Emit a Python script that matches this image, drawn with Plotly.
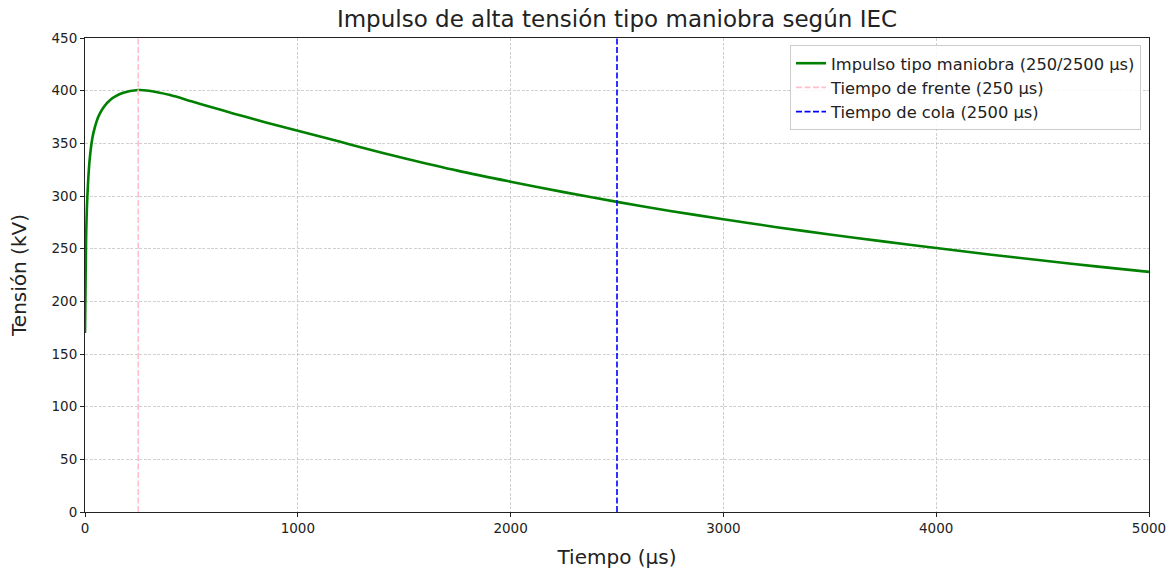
import plotly.graph_objects as go

# Tensión (µs, kV)
tiempo_us = [0, 5, 11, 23, 39, 70, 117, 180, 250, 300, 400, 500, 600, 700,
             800, 900, 1000, 1100, 1200, 1300, 1400, 1500, 1750, 2000, 2250,
             2500, 2750, 3000, 3250, 3500, 3750, 4000, 4250, 4500, 4750, 5000]
tension_kv = [170, 258, 299, 337, 359.5, 378.5, 391, 398, 400.6, 399.9,
              395.8, 389.9, 384, 378.2, 372.6, 367.2, 362, 356.7, 351.4,
              346.1, 340.9, 335.9, 324.1, 313.6, 303.7, 294.4, 285.8, 278,
              270.4, 263.5, 256.9, 250.6, 244.5, 238.7, 233.2, 228]

T_FRENTE = 250
T_COLA = 2500
Y_RANGO = [0, 450]

FONT = "DejaVu Sans"
GRID = "rgba(176,176,176,0.6)"

fig = go.Figure()

fig.add_trace(go.Scatter(
    x=tiempo_us, y=tension_kv, mode="lines", line_shape="spline",
    line_smoothing=0.8,
    name="Impulso tipo maniobra (250/2500 µs)",
    line=dict(color="#008000", width=2.6),
))
fig.add_trace(go.Scatter(
    x=[T_FRENTE, T_FRENTE], y=Y_RANGO, mode="lines",
    name="Tiempo de frente (250 µs)",
    line=dict(color="#ffc0cb", width=1.6, dash="6px,2.5px"),
))
fig.add_trace(go.Scatter(
    x=[T_COLA, T_COLA], y=Y_RANGO, mode="lines",
    name="Tiempo de cola (2500 µs)",
    line=dict(color="#0000ff", width=1.6, dash="6px,2.5px"),
))

axis = dict(
    showline=True, linecolor="#222", linewidth=1, mirror=True,
    ticks="outside", ticklen=4, tickcolor="#222",
    tickfont=dict(size=13.5, color="#222"),
    showgrid=True, gridcolor=GRID, griddash="3px,1.5px", gridwidth=1,
    zeroline=False, automargin=False,
)

fig.update_layout(
    width=1176, height=570,
    font=dict(family=FONT, color="#222"),
    title=dict(text="Impulso de alta tensión tipo maniobra según IEC",
               x=617 / 1176, xanchor="center", y=1 - 19 / 570,
               yanchor="middle", font=dict(size=23)),
    xaxis=dict(axis, range=[0, 5000], dtick=1000,
               title=dict(text="Tiempo (µs)", font=dict(size=20), standoff=14)),
    yaxis=dict(axis, range=Y_RANGO, dtick=50,
               title=dict(text="Tensión (kV)", font=dict(size=20), standoff=19)),
    plot_bgcolor="white", paper_bgcolor="white",
    margin=dict(l=85, r=27, t=38, b=58),
    legend=dict(x=0.9925, y=0.985, xanchor="right", yanchor="top",
                bgcolor="rgba(255,255,255,0.85)", bordercolor="#cccccc",
                borderwidth=1, font=dict(size=16.3, color="#222"),
                tracegroupgap=2),
    showlegend=True,
)

# sin el margen de 8 px que trae el <body> por defecto
fig.write_html("out.html", config={"displayModeBar": False},
               post_script="document.body.style.margin='0';")
